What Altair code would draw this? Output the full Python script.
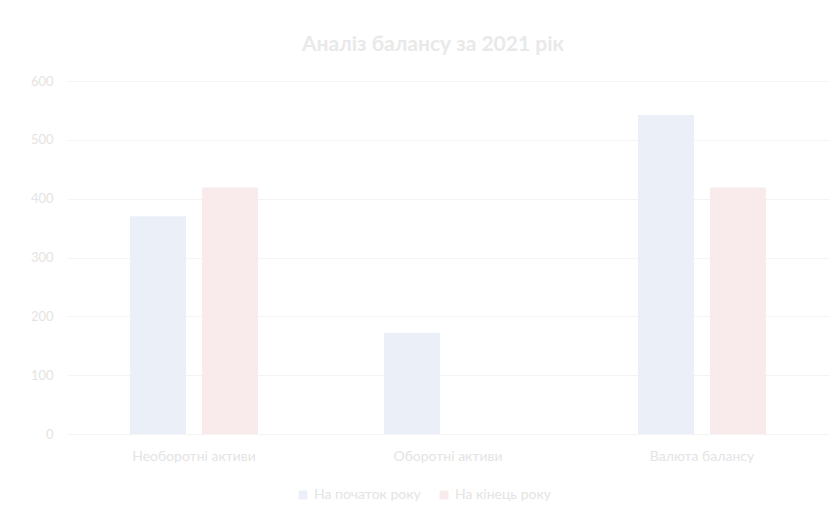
import altair as alt
import pandas as pd

categories = ["Необоротні активи", "Оборотні активи", "Валюта балансу"]
series = ["На початок року", "На кінець року"]
start_values = [370, 172, 542]
end_values = [419, 0, 419]
colors = ["#ebf0f8", "#f9ebeb"]

rows = []
for c, s, e in zip(categories, start_values, end_values):
    rows.append({"cat": c, "series": series[0], "value": s})
    rows.append({"cat": c, "series": series[1], "value": e})
df = pd.DataFrame(rows)

text_color = "#e4e4e4"
font = "Lato"

chart = alt.Chart(df).mark_bar().encode(
    x=alt.X("cat:N", sort=categories, title=None,
            scale=alt.Scale(paddingInner=0.496, paddingOuter=0.248),
            axis=alt.Axis(labelAngle=0, domain=False, ticks=False, labelPadding=15,
                          labelFontSize=14, labelColor=text_color, labelFont=font)),
    xOffset=alt.XOffset("series:N", sort=series,
                        scale=alt.Scale(paddingInner=0.222, paddingOuter=0)),
    y=alt.Y("value:Q", title=None,
            scale=alt.Scale(domain=[0, 600]),
            axis=alt.Axis(values=[0, 100, 200, 300, 400, 500, 600], domain=False, ticks=False,
                          labelPadding=14, labelFontSize=13, labelColor=text_color, labelFont=font,
                          gridColor="#f4f4f4", gridWidth=1)),
    color=alt.Color("series:N", sort=series,
                    scale=alt.Scale(domain=series, range=colors),
                    legend=alt.Legend(title=None, orient="none", direction="horizontal",
                                      legendX=229, legendY=407, symbolType="square",
                                      symbolSize=80, labelFontSize=14, labelColor=text_color,
                                      labelFont=font, columnPadding=16, symbolOpacity=1)),
).properties(
    width=762,
    height=353,
    background="white",
    title=alt.TitleParams("Аналіз балансу за 2021 рік", fontSize=21, fontWeight="bold",
                          color="#e9e9e9", font=font, offset=20, dx=-15),
    padding={"left": 59, "top": 73, "right": 2, "bottom": 79},
    autosize=alt.AutoSizeParams(type="none"),
).configure_view(stroke=None)

chart.save("out.html", embed_options={"renderer": "svg", "actions": False})
